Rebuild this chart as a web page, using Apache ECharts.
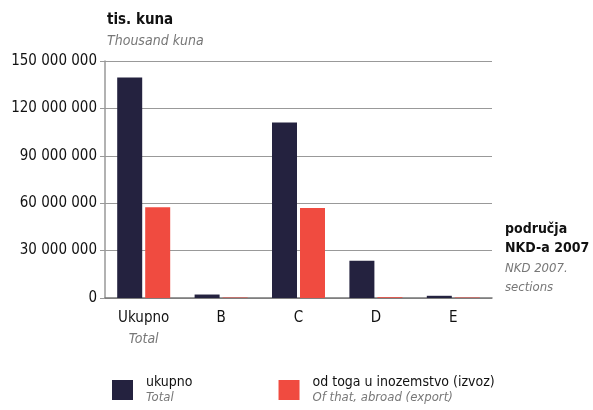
<!DOCTYPE html>
<html><head><meta charset="utf-8">
<script src="https://cdn.jsdelivr.net/npm/echarts@6/dist/echarts.min.js"></script>
<style>html,body{margin:0;padding:0;background:#fff}#c{width:593px;height:410px}</style>
</head><body><div id="c"></div>
<script>
const categories = ['Ukupno', 'B', 'C', 'D', 'E'];
const categoriesEn = ['Total', '', '', '', ''];
const totalValues = [139500000, 2200000, 111000000, 23500000, 1400000];
const exportValues = [57500000, 300000, 57000000, 500000, 300000];
const yTicks = [0, 30000000, 60000000, 90000000, 120000000, 150000000];
const seriesNames = ['ukupno', 'od toga u inozemstvo (izvoz)'];
const seriesNamesEn = ['Total', 'Of that, abroad (export)'];

const FONT = '"Liberation Sans Narrow", "DejaVu Sans Condensed", "Liberation Sans", sans-serif';
const chart = echarts.init(document.getElementById('c'));
function fmt(v){return String(v).replace(/\B(?=(\d{3})+(?!\d))/g,' ');}
chart.setOption({
  animation:false,
  textStyle:{fontFamily:FONT},
  grid:{left:105,right:101,top:61,bottom:112},
  legend:{
    left:107, top:370, itemWidth:21, itemHeight:20, itemGap:86, icon:'rect',
    data:seriesNames,
    formatter:function(n){const i=seriesNames.indexOf(n);return '{a|'+n+'}\n{b|'+seriesNamesEn[i]+'}';},
    textStyle:{padding:[0,0,0,8],rich:{
      a:{fontFamily:FONT,fontSize:14,color:'#111',lineHeight:16},
      b:{fontFamily:FONT,fontSize:13,fontStyle:'italic',color:'#777',lineHeight:16}
    }}
  },
  xAxis:{type:'category',data:categories,
    axisLine:{lineStyle:{color:'#777',width:1.5}},axisTick:{show:false},
    axisLabel:{margin:10,interval:0,
      formatter:function(v,i){return categoriesEn[i]?'{a|'+v+'}\n{b|'+categoriesEn[i]+'}':'{a|'+v+'}';},
      rich:{a:{fontFamily:FONT,fontSize:15,color:'#111',lineHeight:21},
            b:{fontFamily:FONT,fontSize:14,fontStyle:'italic',color:'#777',lineHeight:21}}}
  },
  yAxis:{type:'value',min:0,max:150000000,interval:30000000,
    axisLine:{show:true,lineStyle:{color:'#999',width:1.5}},
    axisTick:{show:true,length:5,lineStyle:{color:'#999'}},
    splitLine:{lineStyle:{color:'#999',width:1.2}},
    axisLabel:{margin:8,fontFamily:FONT,fontSize:15,color:'#111',formatter:fmt}
  },
  series:[
    {name:seriesNames[0],type:'bar',data:totalValues,barWidth:25,barGap:'12%',itemStyle:{color:'#24223f'}},
    {name:seriesNames[1],type:'bar',data:exportValues,barWidth:25,itemStyle:{color:'#f04b40'}}
  ],
  graphic:[
    {type:'text',left:107,top:13,style:{text:'tis. kuna',font:'bold 15px '+FONT,fill:'#111'}},
    {type:'text',left:107,top:34,style:{text:'Thousand kuna',font:'italic 14px '+FONT,fill:'#777'}},
    {type:'text',left:505,top:220,style:{text:'područja\nNKD-a 2007',font:'bold 14px '+FONT,fill:'#111',lineHeight:19}},
    {type:'text',left:505,top:259,style:{text:'NKD 2007.\nsections',font:'italic 13px '+FONT,fill:'#777',lineHeight:19}}
  ]
});
</script></body></html>
